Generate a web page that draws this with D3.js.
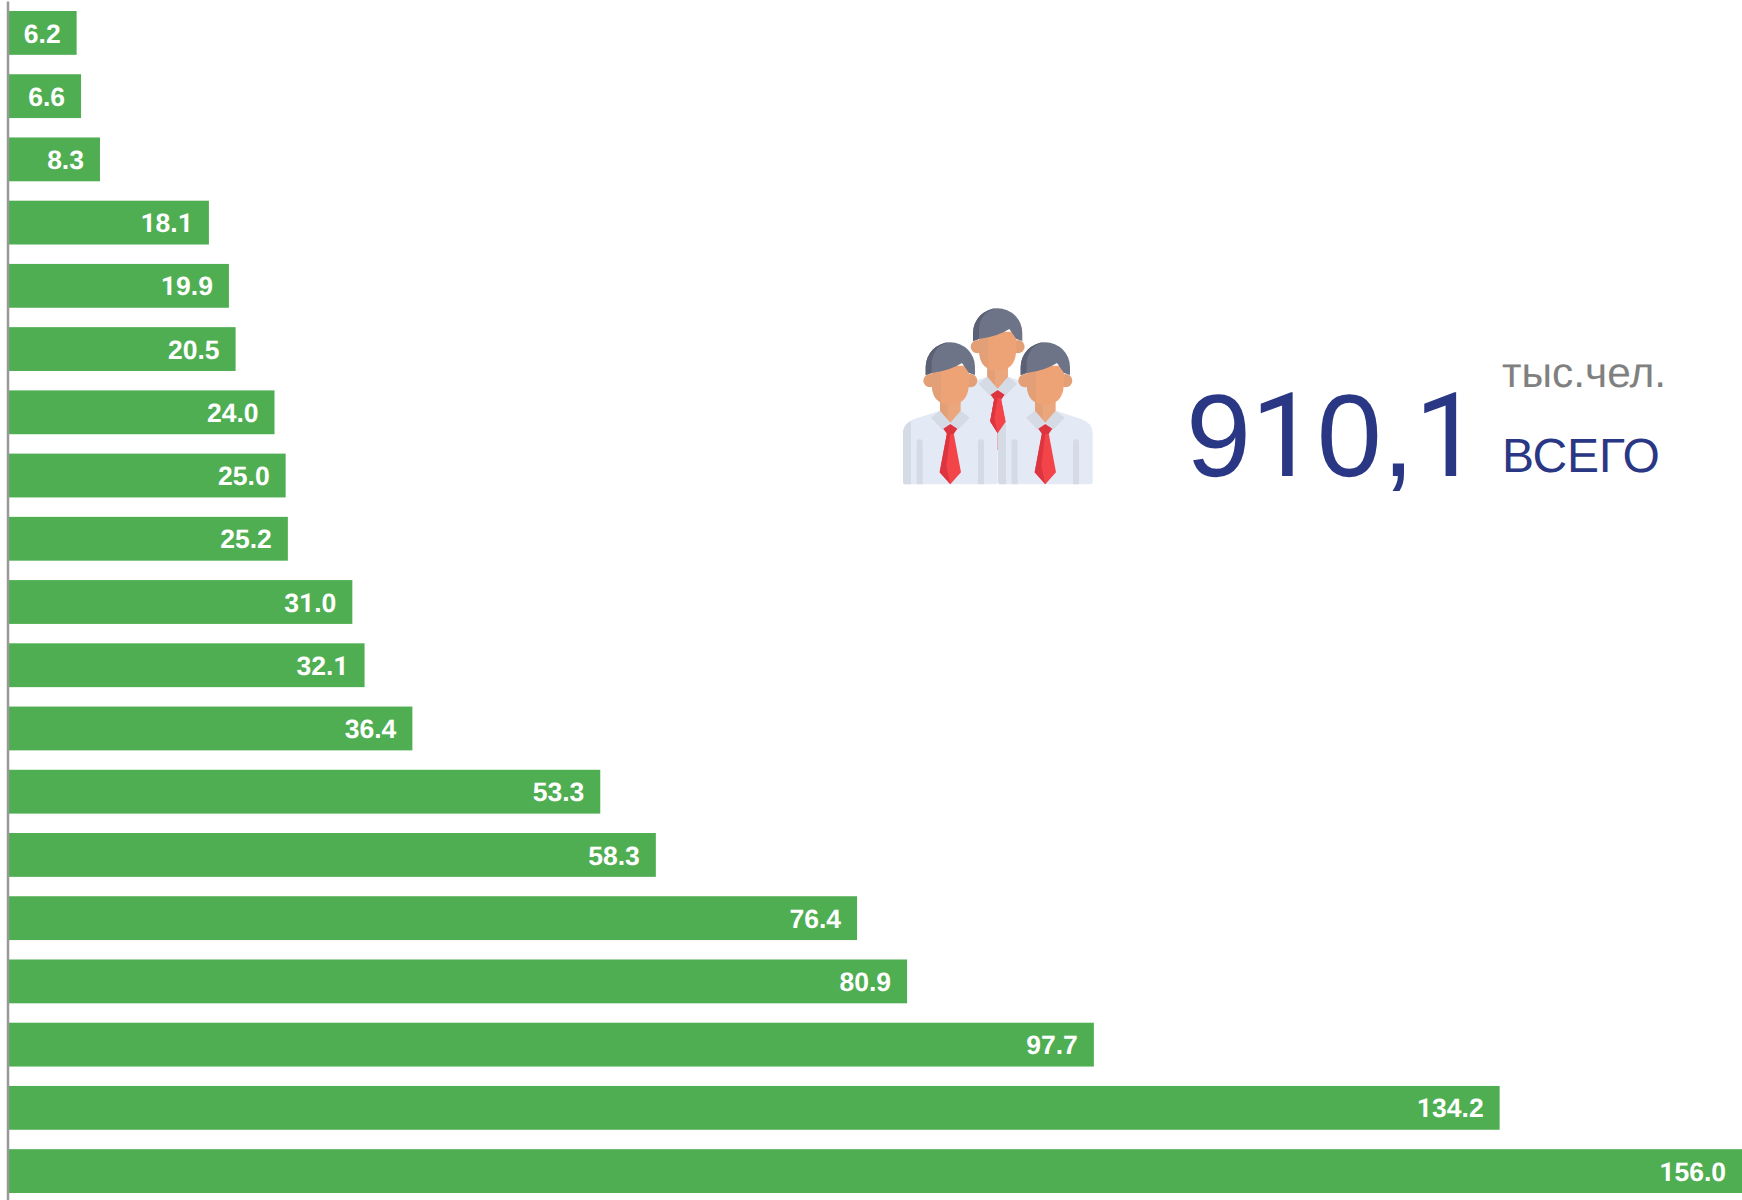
<!DOCTYPE html>
<html>
<head>
<meta charset="utf-8">
<script src="https://cdn.jsdelivr.net/npm/d3@7"></script>
<style>
  html, body { margin: 0; padding: 0; background: #fff; }
  svg { display: block; }
  text { font-family: "Liberation Sans", Arial, sans-serif; text-rendering: geometricPrecision; }
  tspan.one { font-family: Roboto, sans-serif; }
</style>
</head>
<body>
<svg id="chart"></svg>
<script>
// Values, top to bottom (category names are not shown in the picture)
const ranks = d3.range(1, 20);
const values = [6.2, 6.6, 8.3, 18.1, 19.9, 20.5, 24.0, 25.0, 25.2, 31.0, 32.1, 36.4, 53.3, 58.3, 76.4, 80.9, 97.7, 134.2, 156.0];
const totalLabel = "910,1";
const unitLabel = "тыс.чел.";
const totalCaption = "ВСЕГО";

const width = 1742, height = 1200;
const green = "#4fae52", navy = "#2a3784", grey = "#808080";

const svg = d3.select("#chart").attr("width", width).attr("height", height);

const x = d3.scaleLinear().domain([0, 156]).range([7.7, 1742]);
const y = d3.scaleBand().domain(ranks).range([11, 1193]).paddingInner(0.307).paddingOuter(0);

// Liberation's "1" has a foot that the reference font does not, so those glyphs come from Roboto
function setDigits(sel, str) {
  sel.selectAll("tspan")
      .data(str.match(/1|[^1]+/g))
    .join("tspan")
      .classed("one", d => d === "1")
      .text(d => d);
}

// Bars
svg.append("g").selectAll("rect")
    .data(values)
  .join("rect")
    .attr("x", x(0))
    .attr("y", (d, i) => y(ranks[i]))
    .attr("width", d => x(d) - x(0))
    .attr("height", y.bandwidth())
    .attr("fill", green);

// Value labels
svg.append("g").selectAll("text")
    .data(values)
  .join("text")
    .attr("x", d => x(d) - 16)
    .attr("y", (d, i) => y(ranks[i]) + y.bandwidth() / 2 + 9.6)
    .attr("text-anchor", "end")
    .attr("font-size", 26.5)
    .attr("font-weight", "bold")
    .attr("fill", "#fff")
    .each(function(d) { setDigits(d3.select(this), d.toFixed(1)); });

// Axis line, no ticks
const axisScale = d3.scaleLinear().domain([0, 1]).range([1, height]);
const axis = svg.append("g")
    .attr("transform", "translate(7.5,0)")
    .call(d3.axisLeft(axisScale).tickValues([]).tickSize(0));
axis.select(".domain").attr("stroke", "#999").attr("stroke-width", 2.5);

// Total block
svg.append("text").attr("x", 1186).attr("y", 476)
    .attr("font-size", 117).attr("fill", navy)
    .call(setDigits, totalLabel);
svg.append("text").attr("x", 1502).attr("y", 387)
    .attr("font-size", 42.5).attr("fill", grey).text(unitLabel);
svg.append("text").attr("x", 1502).attr("y", 472)
    .attr("font-size", 48).attr("fill", navy).text(totalCaption);

// People icon
const icon = svg.append("g").attr("transform", "translate(880,290) scale(0.3333)");

function drawPerson(cx, top, isFront) {
  const p = icon.append("g").attr("transform", `translate(${cx},${top})`);
  const part = (d, fill) => p.append("path").attr("d", d).attr("fill", fill);

  part("M-142,418V272Q-142,242-108,230L-31,205H31L108,230Q142,242 142,272V418Q142,426 134,426H-134Q-142,426-142,418Z", "#e4e9f6");
  if (isFront) {
    part("M-142,418V272Q-142,250-118,236V426H-134Q-142,426-142,418Z", "#d5dbe5");
    part("M-101,300Q-101,291-92,291Q-83,291-83,300V426H-101Z", "#d5dbe5");
    part("M83,300Q83,291 92,291Q101,291 101,300V426H83Z", "#d5dbe5");
  }

  part("M-31,170H31V215L0,243L-31,215Z", "#eaa77e");
  part("M-31,170H-8V235L0,243L-31,215Z", "#e39f75");
  part("M-58,226L-31,205L0,241L-22,264Z", "#d5dbe5");
  part("M58,226L31,205L0,241L22,264Z", "#d5dbe5");

  part("M-10,272H10L32,390L0,426L-32,390Z", "#f3444a");
  part("M-10,272H0L-12,372L0,426L-32,390Z", "#dc3540");
  part("M-21,259L0,245L21,259L10,275H-10Z", "#dc3540");

  p.append("circle").attr("cx", -61).attr("cy", 115).attr("r", 20).attr("fill", "#e39f75");
  p.append("circle").attr("cx", 61).attr("cy", 115).attr("r", 20).attr("fill", "#e39f75");

  part("M-56,70V120Q-56,186 0,188Q56,186 56,120V70Z", "#eea377");
  part("M-56,70V120Q-56,170-28,180V70Z", "#e39f75");

  part("M-74,98V74A74,74 0 0 1 74,74V98L56,92L35,62Q0,85-56,92Z", "#6e7487");
  part("M-74,98V74A74,74 0 0 1 -2,0Q-50,8-56,60V92Z", "#5b6075");
}

drawPerson(353, 55, false);
drawPerson(211, 157, true);
drawPerson(496, 157, true);

// The back tie sits on top of the two front shoulders
icon.append("path").attr("d", "M343,325H363L377,395L353,430L331,395Z").attr("fill", "#f3444a");
icon.append("path").attr("d", "M343,325H353L343,385L353,430L331,395Z").attr("fill", "#dc3540");
</script>
</body>
</html>
